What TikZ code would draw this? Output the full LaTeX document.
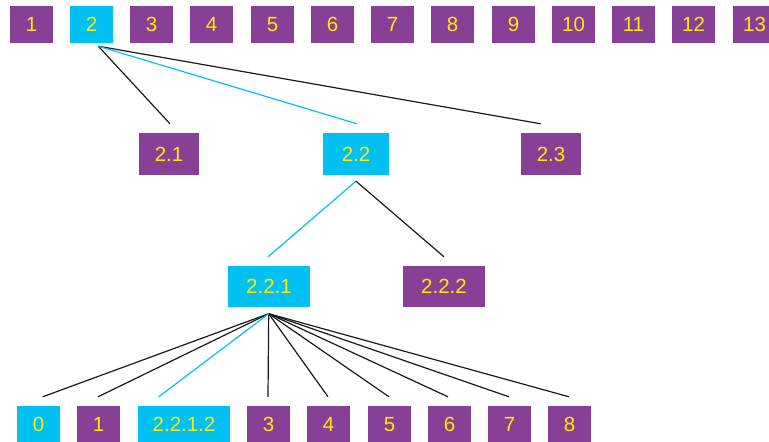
\documentclass[tikz,border=0pt]{standalone}
\usepackage{fontspec}
\setmainfont{Liberation Sans}
\definecolor{boxpurple}{RGB}{136,64,150}
\definecolor{boxcyan}{RGB}{0,193,242}
\definecolor{labelyellow}{RGB}{255,236,0}
\definecolor{linkdark}{RGB}{25,25,30}
\tikzset{
  cell/.style={rectangle, inner sep=0pt, text=labelyellow,
    font=\fontsize{20.5}{20.5}\selectfont, minimum width=43pt, minimum height=37pt},
  plain/.style={cell, fill=boxpurple},
  onpath/.style={cell, fill=boxcyan},
  link/.style={draw=linkdark, line width=1.2pt},
  pathlink/.style={draw=boxcyan, line width=1.2pt},
}
\begin{document}
\begin{tikzpicture}[x=1pt, y=-1pt]
\useasboundingbox (0,0) rectangle (769,442);
\clip (0,0) rectangle (769,442);

% top level
\node[plain]  (t1)  at (31.5,24.5)  {1};
\node[onpath] (t2)  at (91.5,24.5)  {2};
\node[plain]  (t3)  at (151.5,24.5) {3};
\node[plain]  (t4)  at (211.5,24.5) {4};
\node[plain]  (t5)  at (272.5,24.5) {5};
\node[plain]  (t6)  at (332.5,24.5) {6};
\node[plain]  (t7)  at (392.5,24.5) {7};
\node[plain]  (t8)  at (452.5,24.5) {8};
\node[plain]  (t9)  at (513.5,24.5) {9};
\node[plain]  (t10) at (573.5,24.5) {10};
\node[plain]  (t11) at (633.5,24.5) {11};
\node[plain]  (t12) at (693.5,24.5) {12};
\node[plain]  (t13) at (754.5,24.5) {13};

% second level
\node[plain,  minimum width=60pt, minimum height=42pt] (s21) at (169,154) {2.1};
\node[onpath, minimum width=66pt, minimum height=42pt] (s22) at (356,154) {2.2};
\node[plain,  minimum width=60pt, minimum height=42pt] (s23) at (551,154) {2.3};

% third level
\node[onpath, minimum width=82pt, minimum height=41pt] (s221) at (269,286.5) {2.2.1};
\node[plain,  minimum width=82pt, minimum height=41pt] (s222) at (444,286.5) {2.2.2};

% leaves
\node[onpath] (b0) at (38.5,424.5)  {0};
\node[plain]  (b1) at (98.5,424.5)  {1};
\node[onpath, minimum width=92pt] (b2) at (184,424.5) {2.2.1.2};
\node[plain]  (b3) at (268.5,424.5) {3};
\node[plain]  (b4) at (328.5,424.5) {4};
\node[plain]  (b5) at (389.5,424.5) {5};
\node[plain]  (b6) at (449.5,424.5) {6};
\node[plain]  (b7) at (509.5,424.5) {7};
\node[plain]  (b8) at (569.5,424.5) {8};

% fan-out points below the parents
\coordinate (h2)   at ([shift={(6.8pt,-3pt)}]t2.south);
\coordinate (h22)  at ([yshift=-6pt]s22.south);
\coordinate (h221) at ([shift={(-0.3pt,-6.5pt)}]s221.south);

% connectors
\draw[link]     (h2) -- ([shift={(1pt,9pt)}]s21.north);
\draw[link]     (h2) -- ([shift={(-10.3pt,9pt)}]s23.north);
\draw[pathlink] (h2) -- ([shift={(1pt,9pt)}]s22.north);

\draw[pathlink] (h22) -- ([shift={(-1pt,9pt)}]s221.north);
\draw[link]     (h22) -- ([yshift=9pt]s222.north);

\draw[link]     (h221) -- ([shift={(4.2pt,9pt)}]b0.north);
\draw[link]     (h221) -- ([shift={(-0.5pt,9pt)}]b1.north);
\draw[link]     (h221) -- ([shift={(-0.5pt,9pt)}]b3.north);
\draw[link]     (h221) -- ([shift={(-0.5pt,9pt)}]b4.north);
\draw[link]     (h221) -- ([shift={(-0.5pt,9pt)}]b5.north);
\draw[link]     (h221) -- ([shift={(-1.5pt,9pt)}]b6.north);
\draw[link]     (h221) -- ([shift={(-0.5pt,9pt)}]b7.north);
\draw[link]     (h221) -- ([shift={(-0.5pt,9pt)}]b8.north);
\draw[pathlink] (h221) -- ([shift={(-25.3pt,9pt)}]b2.north);
\end{tikzpicture}
\end{document}
